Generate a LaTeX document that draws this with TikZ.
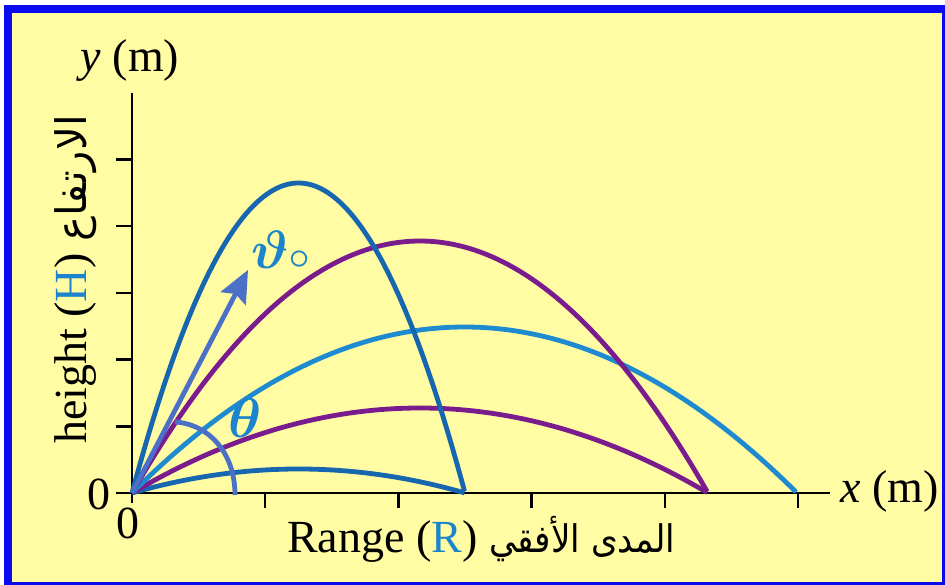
\documentclass[tikz,border=0pt]{standalone}
\usepackage{amsmath}
\usepackage{fontspec}
\setmainfont{Liberation Serif}
\newfontfamily\arabicfont[Script=Arabic]{DejaVu Sans}
\usetikzlibrary{arrows.meta}
\TeXXeTstate=1
\definecolor{bgyellow}{HTML}{FFFCA3}
\definecolor{frameblue}{HTML}{0A0AF0}
\definecolor{dblue}{HTML}{1666B0}
\definecolor{lblue}{HTML}{1E8BD0}
\definecolor{cpurple}{HTML}{7A1C8E}
\definecolor{arrblue}{HTML}{4A70C8}
\definecolor{txtblue}{HTML}{1C84CC}
\tikzset{
  axisline/.style={line width=2.4pt, black},
  tickline/.style={line width=2.4pt, black},
  traj/.style={line width=4.8pt},
  lbl/.style={inner sep=0pt, font=\fontsize{46}{54}\selectfont},
  anglemark/.style={line width=4.8pt, arrblue},
}
\begin{document}
\begin{tikzpicture}[x=1pt,y=-1pt]
\useasboundingbox (0,0) rectangle (945,585);
\fill[white] (0,0) rectangle (945,585);
\fill[frameblue] (4,5) rectangle (945,585);
\fill[bgyellow] (12,13) rectangle (942,582);

\coordinate (O) at (132,493);
\coordinate (ytop) at (132,93);
\coordinate (xend) at (830,493);
\coordinate (ybot) at (132,503);

% axes
\draw[axisline] (ybot) -- (ytop);
\draw[axisline] (116,493) -- (xend);
\foreach \k in {1,...,5} {
  \draw[tickline] (116,{493-66.7*\k}) -- (132,{493-66.7*\k});
  \draw[tickline] ({132+133.2*\k},493) -- ({132+133.2*\k},508);
}

% trajectories
\foreach \R/\H/\c in {333/24/dblue, 576/85/cpurple, 665/166/lblue, 576/252/cpurple, 333/310/dblue}
  \draw[traj, \c] plot[domain=0:1, samples=100, variable=\t] ({132+\R*\t}, {493-4*\H*\t*(1-\t)});

% launch arrow and angle
\coordinate (tip) at (248,270);
\draw[line width=4.8pt, arrblue, -{Stealth[length=32pt, width=28pt, inset=5pt]}] (O) -- (tip);
\coordinate (arcA) at (175,422);
\coordinate (arcB) at (235,495);
\draw[anglemark] (arcA) .. controls (208,424) and (235,452) .. (arcB);

\node[text=txtblue, anchor=center] (theta) at (245,418) {\scalebox{5.6}{$\boldsymbol{\theta}$}};
\node[text=txtblue, anchor=base west, inner sep=0pt] (theta0) at (251,269) {\scalebox{5.4}{$\boldsymbol{\vartheta}{\scriptstyle\circ}$}};

% labels
\node[lbl] (ylab) at (130,61) {\textit{y} (m)};
\node[lbl, anchor=west] (xlab) at (840,491) {\textit{x} (m)};
\node[lbl] (zeroy) at (99,494) {0};
\node[lbl] (zerox) at (128,523) {0};
\node[lbl, anchor=base west] (rangelab) at (287,552)
  {Range (\textcolor{txtblue}{R}) {\fontsize{38}{46}\arabicfont\scalebox{0.9}[1]{\beginR المدى الأفقي\endR}}};
\node[lbl, anchor=base west, rotate=90] (heightlab) at (86,444)
  {height (\textcolor{txtblue}{H}) {\fontsize{42}{50}\arabicfont\beginR الارتفاع\endR}};
\end{tikzpicture}
\end{document}
